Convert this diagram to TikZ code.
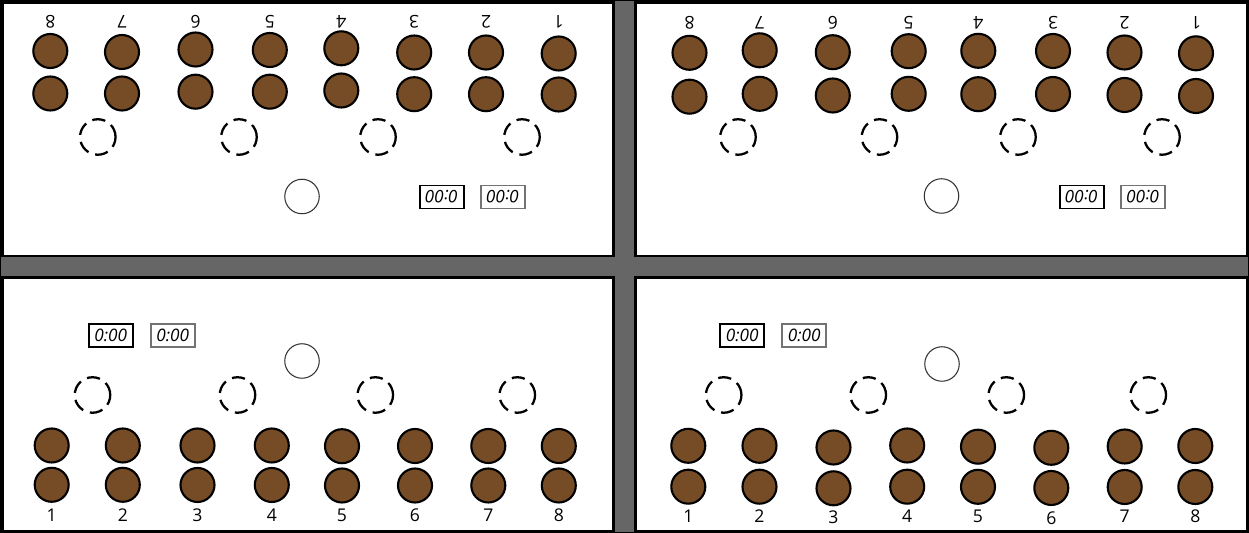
\documentclass[tikz,border=0pt]{standalone}
\usepackage{fontspec}
\setmainfont{Open Sans}
\usetikzlibrary{positioning}
\definecolor{seat}{RGB}{117,76,37}
\definecolor{barfill}{RGB}{102,102,102}

\begin{document}
\begin{tikzpicture}[
    x=0.02cm, y=-0.02cm,
    pnl/.style={draw, line width=1.4pt, fill=white},
    bt/.style={circle, draw, line width=1.2pt, fill=seat,
               minimum size=0.68cm, inner sep=0pt},
    gap/.style={circle, draw, dash pattern=on 7.5pt off 4pt,
                line width=1.3pt, minimum size=0.71cm, inner sep=0pt},
    ball/.style={circle, draw=black!80, line width=0.6pt,
                 minimum size=0.69cm, inner sep=0pt},
    clk/.style={draw, line width=1pt, minimum width=0.88cm,
                minimum height=0.46cm, inner sep=0pt,
                font=\itshape\fontsize{9.8}{11}\selectfont},
    num/.style={font=\fontsize{10}{12}\selectfont, inner sep=0pt}
  ]
    \useasboundingbox (0,0) rectangle (1249,533);
    % frame and the four panels
    \fill[barfill, draw=black, line width=1pt] (0.5,0.5) rectangle (1248.5,532.5);
    \draw[pnl] (2.5,2.5)   rectangle (613.5,256);
    \draw[pnl] (635.5,2.5) rectangle (1247,256);
    \draw[pnl] (2.5,277.5)   rectangle (613.5,531);
    \draw[pnl] (635.5,277.5) rectangle (1247,531);

    % top left (upside down)
    \foreach \n/\x/\ya/\yb in {8/50.3/51/93.5, 7/122/52/93.5, 6/195.5/49.5/91.7,
        5/269.8/50/91.7, 4/341.3/48.3/90.5, 3/414.2/52.5/94.2,
        2/486/52.5/94.2, 1/558.7/53.5/94.5}{
      \node[bt] (tl-\n-a) at (\x,\ya) {};
      \node[bt] (tl-\n-b) at (\x,\yb) {};
      \node[num, rotate=180] (tl-\n-l) at (\x,22) {\n};
    }
    \foreach \i/\x in {1/97.8, 2/239, 3/378, 4/522}
      \node[gap] (tl-gap\i) at (\x,137) {};
    \node[ball] (tl-ball) at (302,196.5) {};
    \node[clk, rotate=180] (tl-clk1) at (441.7,197) {0:00};
    \node[clk, rotate=180, draw=black!55] (tl-clk2) at (503,197) {0:00};

    % top right (upside down)
    \foreach \n/\x/\ya/\yb in {8/689.5/52.8/96.7, 7/759.7/50.3/93.8, 6/832.8/52.2/95.5,
        5/908.7/51.2/93.8, 4/978.3/50.8/94.2, 3/1053/51/94,
        2/1124.5/52.5/95, 1/1196/53.3/96}{
      \node[bt] (tr-\n-a) at (\x,\ya) {};
      \node[bt] (tr-\n-b) at (\x,\yb) {};
      \node[num, rotate=180] (tr-\n-l) at (\x,23) {\n};
    }
    \foreach \i/\x in {1/738, 2/879.5, 3/1018, 4/1162}
      \node[gap] (tr-gap\i) at (\x,137) {};
    \node[ball] (tr-ball) at (941.5,196) {};
    \node[clk, rotate=180] (tr-clk1) at (1081.7,197) {0:00};
    \node[clk, rotate=180, draw=black!55] (tr-clk2) at (1143.2,197) {0:00};

    % bottom left
    \foreach \n/\x/\ya/\yb/\yl in {1/51.7/445.5/484.8/515, 2/122.8/445.5/484.8/515,
        3/197.5/445.5/485/515, 4/271.8/445.5/485/515, 5/342/446.2/485.5/515,
        6/415/446/485.5/515, 7/488.3/446/485.5/515, 8/558.8/446/485.5/515}{
      \node[bt] (bl-\n-a) at (\x,\ya) {};
      \node[bt] (bl-\n-b) at (\x,\yb) {};
      \node[num] (bl-\n-l) at (\x,\yl) {\n};
    }
    \foreach \i/\x in {1/92.5, 2/237.5, 3/375.3, 4/517.3}
      \node[gap] (bl-gap\i) at (\x,395) {};
    \node[ball] (bl-ball) at (302,361) {};
    \node[clk] (bl-clk1) at (110.8,335.7) {0:00};
    \node[clk, draw=black!55] (bl-clk2) at (172.8,335.7) {0:00};

    % bottom right
    \foreach \n/\x/\ya/\yb/\yl in {1/688.3/445.8/486.7/516, 2/759.5/445.8/486.7/516,
        3/833.5/447.5/488.3/517, 4/907.2/445.5/486.7/516, 5/978/446.7/486.8/516,
        6/1051.3/447.8/488/518, 7/1124.7/446.5/487/516, 8/1195.3/446/487/516}{
      \node[bt] (br-\n-a) at (\x,\ya) {};
      \node[bt] (br-\n-b) at (\x,\yb) {};
      \node[num] (br-\n-l) at (\x,\yl) {\n};
    }
    \foreach \i/\x in {1/723.7, 2/868.3, 3/1006.3, 4/1148.3}
      \node[gap] (br-gap\i) at (\x,395) {};
    \node[ball] (br-ball) at (942,364) {};
    \node[clk] (br-clk1) at (742.2,335.7) {0:00};
    \node[clk, draw=black!55] (br-clk2) at (804.2,335.7) {0:00};
  \end{tikzpicture}
\end{document}
